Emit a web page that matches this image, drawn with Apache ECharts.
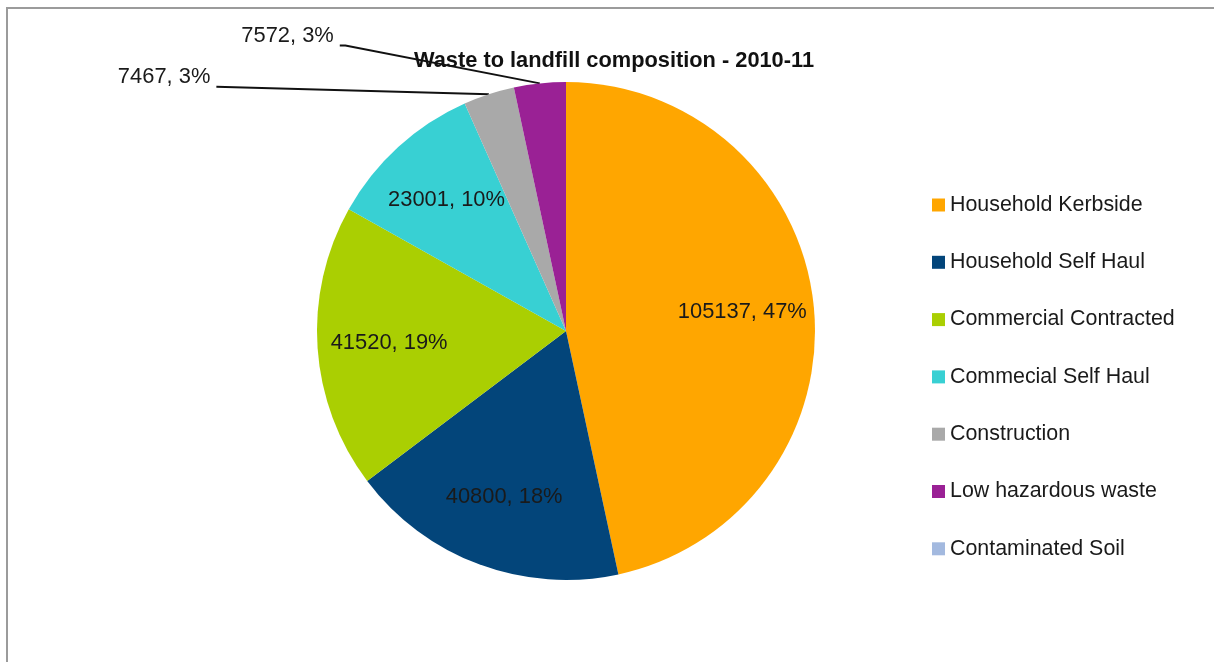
<!DOCTYPE html>
<html>
<head>
<meta charset="utf-8">
<script src="https://cdn.jsdelivr.net/npm/echarts@6/dist/echarts.min.js"></script>
<style>
html,body{margin:0;padding:0;background:#fff;}
#chart{width:1214px;height:662px;}
</style>
</head>
<body>
<div id="chart"></div>
<script>
var titleText = 'Waste to landfill composition - 2010-11';
var categories = ['Household Kerbside','Household Self Haul','Commercial Contracted','Commecial Self Haul','Construction','Low hazardous waste','Contaminated Soil'];
var values = [105137, 40800, 41520, 23001, 7467, 7572, 0];
var colors = ['#FFA600','#03457A','#AACF02','#38D0D3','#A9A9A9','#9A2195','#A3B9DF'];
var insideLabel = [true, true, true, true, false, false, false];
var outsideLabel = [false, false, false, false, true, true, false];

var FONT = "'Liberation Sans',Arial,sans-serif";
var R = 249;
var CENTER = [566, 331];
var outsideLine = {
  4: {length: 8, length2: 270, turn: 179},
  5: {length: 38, length2: 196, turn: 169}
};

var mainData = categories.map(function (name, i) {
  var item = {name: name, value: values[i], itemStyle: {color: colors[i]}};
  if (outsideLabel[i]) {
    item.label = {show: true, position: 'outside'};
    item.labelLine = {
      show: true,
      length: outsideLine[i].length,
      length2: outsideLine[i].length2,
      minTurnAngle: outsideLine[i].turn,
      maxSurfaceAngle: 180
    };
  } else {
    item.label = {show: false};
    item.labelLine = {show: false};
  }
  return item;
});
var overlayData = categories.map(function (name, i) {
  return {name: name, value: values[i], label: {show: insideLabel[i]}};
});

var chart = echarts.init(document.getElementById('chart'), null, {renderer: 'canvas'});
chart.setOption({
  animation: false,
  backgroundColor: '#ffffff',
  color: colors,
  title: {
    text: titleText,
    left: 609,
    top: 45,
    textAlign: 'center',
    textStyle: {fontFamily: FONT, fontSize: 21.8, fontWeight: 'bold', color: '#111'}
  },
  legend: {
    orient: 'vertical',
    left: 927,
    top: 187,
    itemWidth: 13,
    itemHeight: 13,
    itemGap: 31.3,
    icon: 'rect',
    data: categories,
    textStyle: {fontFamily: FONT, fontSize: 21.4, color: '#1a1a1a', lineHeight: 26}
  },
  graphic: [{
    type: 'rect',
    shape: {x: 7, y: 8, width: 1300, height: 800},
    style: {fill: 'none', stroke: '#9b9b9b', lineWidth: 2},
    silent: true,
    z: 100
  }],
  series: [{
    type: 'pie',
    center: CENTER,
    radius: [0, R],
    startAngle: 90,
    clockwise: true,
    percentPrecision: 0,
    avoidLabelOverlap: false,
    minShowLabelAngle: 0,
    label: {
      formatter: function (p) { return '{t|' + p.value + ', ' + p.percent + '%}\n{s|}'; },
      distanceToLabelLine: 6,
      rich: {
        t: {fontFamily: FONT, fontSize: 21.9, color: '#1a1a1a', lineHeight: 24},
        s: {height: 20, lineHeight: 20, fontSize: 2}
      }
    },
    labelLine: {
      lineStyle: {color: '#111', width: 2}
    },
    itemStyle: {borderWidth: 0},
    emphasis: {disabled: true},
    data: mainData
  }, {
    type: 'pie',
    center: CENTER,
    radius: [R * 0.4, R],
    startAngle: 90,
    clockwise: true,
    percentPrecision: 0,
    silent: true,
    avoidLabelOverlap: false,
    itemStyle: {color: 'rgba(0,0,0,0)'},
    label: {
      position: 'inner',
      formatter: '{c}, {d}%',
      fontFamily: FONT,
      fontSize: 21.9,
      color: '#1a1a1a'
    },
    labelLine: {show: false},
    emphasis: {disabled: true},
    data: overlayData
  }]
});
</script>
</body>
</html>
